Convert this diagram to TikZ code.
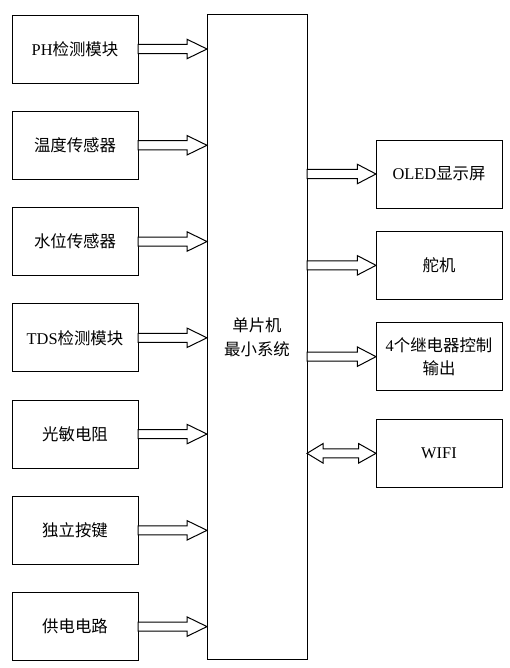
\documentclass[tikz,border=0pt]{standalone}
\usepackage{fontspec}
\setmainfont{Liberation Serif}
\newfontfamily\cjk{Noto Sans CJK SC}
\usetikzlibrary{positioning,calc}

\newcommand{\zh}[1]{{\cjk #1}}

% hollow block arrows between node sides
\newcommand{\inarrow}[2]{%
  \draw[blockarrow] let \p1=(#1.east), \p2=(#2.west) in
    (\x1,\y1+3.4pt) -- (\x2-15pt,\y1+3.4pt) -- (\x2-15pt,\y1+7.3pt) -- (\x2,\y1)
    -- (\x2-15pt,\y1-7.3pt) -- (\x2-15pt,\y1-3.4pt) -- (\x1,\y1-3.4pt) -- cycle;}
\newcommand{\outarrow}[2]{%
  \draw[blockarrow] let \p1=(#1.east), \p2=(#2.west) in
    (\x1,\y2+3.4pt) -- (\x2-14pt,\y2+3.4pt) -- (\x2-14pt,\y2+7.3pt) -- (\x2,\y2)
    -- (\x2-14pt,\y2-7.3pt) -- (\x2-14pt,\y2-3.4pt) -- (\x1,\y2-3.4pt) -- cycle;}
\newcommand{\twowayarrow}[2]{%
  \draw[blockarrow] let \p1=(#1.east), \p2=(#2.west) in
    (\x1,\y2) -- (\x1+12pt,\y2+7.3pt) -- (\x1+12pt,\y2+3.4pt)
    -- (\x2-13pt,\y2+3.4pt) -- (\x2-13pt,\y2+7.3pt) -- (\x2,\y2)
    -- (\x2-13pt,\y2-7.3pt) -- (\x2-13pt,\y2-3.4pt)
    -- (\x1+12pt,\y2-3.4pt) -- (\x1+12pt,\y2-7.3pt) -- cycle;}

\tikzset{
  box/.style={draw, line width=0.75pt, minimum width=94.5pt, minimum height=51pt,
    inner sep=0pt, outer sep=0pt, align=center, font=\fontsize{12.3}{17.5}\selectfont},
  mcu/.style={draw, line width=0.75pt, minimum width=75pt, minimum height=483.75pt,
    inner sep=0pt, outer sep=0pt, align=center, font=\fontsize{12.3}{18}\selectfont},
  blockarrow/.style={draw, fill=white, line width=0.75pt, line join=miter},
  node distance=21.2pt
}

\begin{document}
\begin{tikzpicture}

  \useasboundingbox (0,0) rectangle (382.5pt,-501pt);

  % Define nodes
  \node[mcu] (main) at (192.75pt,-253.1pt) {\zh{单片机}\\\zh{最小系统}};

  \node[box] (ph) at (56.25pt,-36.75pt) {PH\zh{检测模块}};
  \node[box, below=of ph]    (temp)  {\zh{温度传感器}};
  \node[box, below=of temp]  (level) {\zh{水位传感器}};
  \node[box, below=of level] (tds)   {TDS\zh{检测模块}};
  \node[box, below=of tds]   (light) {\zh{光敏电阻}};
  \node[box, below=of light] (key)   {\zh{独立按键}};
  \node[box, below=of key]   (power) {\zh{供电电路}};

  \node[box, anchor=west] (oled) at ([xshift=51.75pt]main.east |- 0,-130.5pt) {OLED\zh{显示屏}};
  \node[box, below=17.5pt of oled]  (servo) {\zh{舵机}};
  \node[box, below=17.5pt of servo] (relay) {4\zh{个继电器控制}\\\zh{输出}};
  \node[box, below=21.5pt of relay] (wifi)  {WIFI};

  % Connect the nodes
  \foreach \src in {ph,temp,level,tds,light,key,power}
    \inarrow{\src}{main};
  \foreach \dst in {oled,servo,relay}
    \outarrow{main}{\dst};
  \twowayarrow{main}{wifi};

\end{tikzpicture}
\end{document}
